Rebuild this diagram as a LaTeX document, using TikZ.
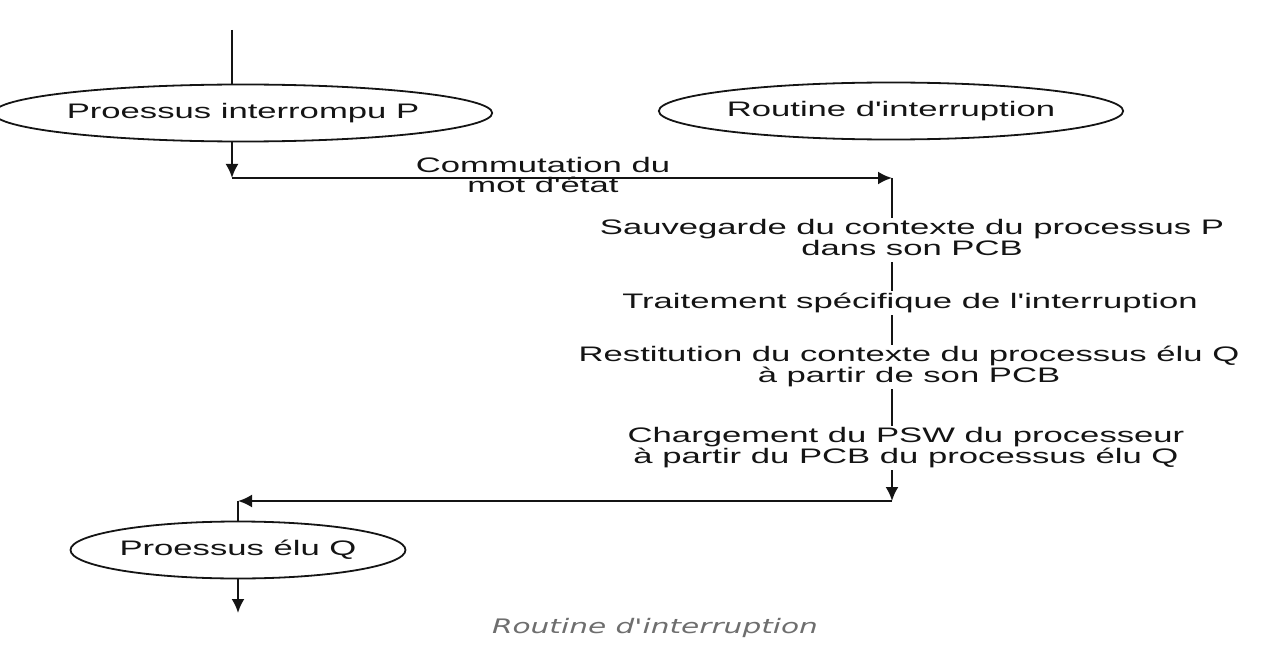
\documentclass[tikz,border=0pt]{standalone}
\usepackage{fontspec}
\setmainfont{Liberation Sans}
\newfontfamily\capfont{DejaVu Sans}
\usetikzlibrary{shapes.geometric,arrows.meta}
\newcommand\stretchtxt[1]{\scalebox{1.65}[1]{\begin{tabular}{@{}c@{}}#1\end{tabular}}}
\newcommand\stretchcap[1]{\scalebox{1.48}[1]{#1}}
\newcommand\ap{\textquotesingle}
\definecolor{ink}{HTML}{141414}
\definecolor{capgray}{HTML}{6E6E6E}
\tikzset{
  proc/.style={ellipse, draw=ink, line width=1.8pt, inner sep=0pt, text=ink,
    font=\fontsize{21}{17}\selectfont},
  steplabel/.style={fill=white, inner sep=1.5pt, text=ink,
    font=\fontsize{21}{17}\selectfont},
  flowlabel/.style={inner sep=0pt, text=ink, font=\fontsize{21}{16}\selectfont},
  flow/.style={draw=ink, line width=2.2pt},
  flowarrow/.style={flow, -{Latex[length=14pt,width=13pt]}},
  captext/.style={text=capgray, font=\capfont\itshape\fontsize{20}{24}\selectfont}
}
\begin{document}
\begin{tikzpicture}[x=1pt,y=-1pt]
\useasboundingbox (0,0) rectangle (1280,650);
% nodes
\node[proc, minimum width=403pt, minimum height=57pt] (P) at (243,113) {\stretchtxt{Proessus interrompu P}};
\node[proc, minimum width=392pt, minimum height=57pt] (R) at (891,111) {\stretchtxt{Routine d\ap interruption}};
\node[proc, minimum width=323pt, minimum height=57pt] (Q) at (238,550) {\stretchtxt{Proessus élu Q}};
\coordinate (top) at (232,30);
\coordinate (c1) at (232,178);
\coordinate (c2) at (892,178);
\coordinate (c3) at (892,501);
\coordinate (c4) at (238,501);
\coordinate (qend) at (238,613);
% connectors
\draw[flow] (top) -- (top |- P.north);
\draw[flowarrow] (top |- P.south) -- (c1);
\draw[flowarrow] (c1) -- (c2);
\draw[flowarrow] (c2) -- (c3);
\draw[flowarrow] (c3) -- (c4);
\draw[flow] (c4) -- (Q.north);
\draw[flowarrow] (Q.south) -- (qend);
% labels
\node[flowlabel] (comm) at (543,177) {\stretchtxt{Commutation du\\mot d\ap état}};
\node[steplabel] (s1) at (912,240) {\stretchtxt{Sauvegarde du contexte du processus P\\dans son PCB}};
\node[steplabel] (s2) at (910,303) {\stretchtxt{Traitement spécifique de l\ap interruption}};
\node[steplabel] (s3) at (909,367) {\stretchtxt{Restitution du contexte du processus élu Q\\à partir de son PCB}};
\node[steplabel] (s4) at (906,448) {\stretchtxt{Chargement du PSW du processeur\\à partir du PCB du processus élu Q}};
\node[captext] (cap) at (655,628) {\stretchcap{Routine d\ap interruption}};
\end{tikzpicture}
\end{document}
